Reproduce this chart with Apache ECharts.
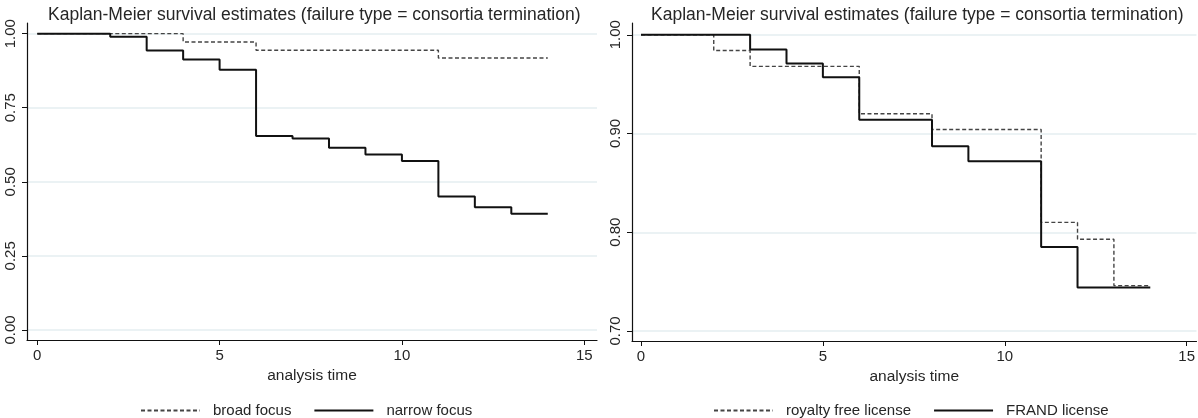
<!DOCTYPE html>
<html>
<head>
<meta charset="utf-8">
<script src="https://cdn.jsdelivr.net/npm/echarts@6/dist/echarts.min.js"></script>
<style>
  html, body { margin: 0; padding: 0; background: #fff; }
  #main { width: 1198px; height: 418px; }
</style>
</head>
<body>
<div id="main"></div>
<script>
var titleText = 'Kaplan-Meier survival estimates (failure type = consortia termination)';
var xTicks = [0, 5, 10, 15];
var yTicksLeft = [0, 0.25, 0.5, 0.75, 1];
var yTicksRight = [0.7, 0.8, 0.9, 1];

// left panel: broad vs narrow focus
var broadTimes = [0, 4, 6, 11, 14];
var broadSurv = [1, 0.972, 0.944, 0.918, 0.918];
var narrowTimes = [0, 2, 3, 4, 5, 6, 7, 8, 9, 10, 11, 12, 13, 14];
var narrowSurv = [1, 0.99, 0.943, 0.913, 0.878, 0.655, 0.646, 0.615, 0.592, 0.570, 0.450, 0.414, 0.392, 0.392];

// right panel: royalty free vs FRAND
var royaltyTimes = [0, 2, 3, 6, 8, 11, 12, 13, 14];
var royaltySurv = [1, 0.984, 0.968, 0.920, 0.904, 0.810, 0.793, 0.746, 0.746];
var frandTimes = [0, 3, 4, 5, 6, 8, 9, 11, 12, 14];
var frandSurv = [1, 0.985, 0.971, 0.957, 0.914, 0.887, 0.872, 0.785, 0.744, 0.744];

function pairs(t, s) {
	var out = [];
	for (var i = 0; i < t.length; i++) {
		out.push([t[i], s[i]]);
	}
	return out;
}

var font = 'Liberation Sans, Arial, sans-serif';
var txt = '#262626';
var gridColor = '#e5eef0';

function xAx(idx, min, max) {
	return {
		type: 'value', gridIndex: idx, min: min, max: max,
		name: 'analysis time', nameLocation: 'middle', nameGap: 25,
		nameTextStyle: { fontSize: 15.5, color: txt, fontFamily: font },
		axisLine: { show: true, onZero: false, lineStyle: { color: '#111', width: 1.2 } },
		axisTick: { show: true, length: 5, customValues: xTicks, lineStyle: { color: '#111' } },
		axisLabel: { customValues: xTicks, margin: 8, fontSize: 15, color: txt, fontFamily: font },
		splitLine: { show: false }
	};
}

function yAx(idx, min, max, ticks) {
	return {
		type: 'value', gridIndex: idx, min: min, max: max,
		axisLine: { show: true, onZero: false, lineStyle: { color: '#111', width: 1.2 } },
		axisTick: { show: true, length: 5, customValues: ticks, lineStyle: { color: '#111' } },
		axisLabel: {
			customValues: ticks, rotate: 90, margin: 9, fontSize: 15, color: txt, fontFamily: font,
			formatter: function(v) { return v.toFixed(2); }
		},
		splitLine: { show: true, lineStyle: { color: gridColor, width: 1.5 } }
	};
}

var dashed = { color: '#444', width: 1.4, type: [4, 2.5] };
var solid = { color: '#111', width: 2 };

var legendBase = {
	top: 398,
	itemWidth: 59, itemHeight: 14, itemGap: 22,
	itemStyle: { opacity: 0, borderWidth: 0 },
	textStyle: { fontSize: 15, color: txt, fontFamily: font, padding: [0, 0, 0, 8] }
};

var myChart = echarts.init(document.getElementById('main'));
option = {
	animation: false,
	backgroundColor: '#fff',
	title: [{
		text: titleText, left: 43, top: 1,
		textStyle: { fontSize: 17.5, fontWeight: 'normal', color: txt, fontFamily: font }
	}, {
		text: titleText, left: 646, top: 1,
		textStyle: { fontSize: 17.5, fontWeight: 'normal', color: txt, fontFamily: font }
	}],
	legend: [
		Object.assign({ data: ['broad focus', 'narrow focus'], left: 135 }, legendBase),
		Object.assign({ data: ['royalty free license', 'FRAND license'], left: 708 }, legendBase)
	],
	grid: [
		{ left: 27, top: 23, width: 570, height: 317 },
		{ left: 632, top: 23, width: 566, height: 318 }
	],
	xAxis: [xAx(0, -0.282, 15.35), xAx(1, -0.247, 15.27)],
	yAxis: [yAx(0, -0.034, 1.036, yTicksLeft), yAx(1, 0.6899, 1.0119, yTicksRight)],
	series: [{
		name: 'broad focus', type: 'line', step: 'end', symbol: 'none',
		xAxisIndex: 0, yAxisIndex: 0, data: pairs(broadTimes, broadSurv),
		lineStyle: dashed, itemStyle: { color: '#444' }
	}, {
		name: 'narrow focus', type: 'line', step: 'end', symbol: 'none',
		xAxisIndex: 0, yAxisIndex: 0, data: pairs(narrowTimes, narrowSurv),
		lineStyle: solid, itemStyle: { color: '#111' }
	}, {
		name: 'royalty free license', type: 'line', step: 'end', symbol: 'none',
		xAxisIndex: 1, yAxisIndex: 1, data: pairs(royaltyTimes, royaltySurv),
		lineStyle: dashed, itemStyle: { color: '#444' }
	}, {
		name: 'FRAND license', type: 'line', step: 'end', symbol: 'none',
		xAxisIndex: 1, yAxisIndex: 1, data: pairs(frandTimes, frandSurv),
		lineStyle: solid, itemStyle: { color: '#111' }
	}]
};
myChart.setOption(option);
</script>
</body>
</html>
